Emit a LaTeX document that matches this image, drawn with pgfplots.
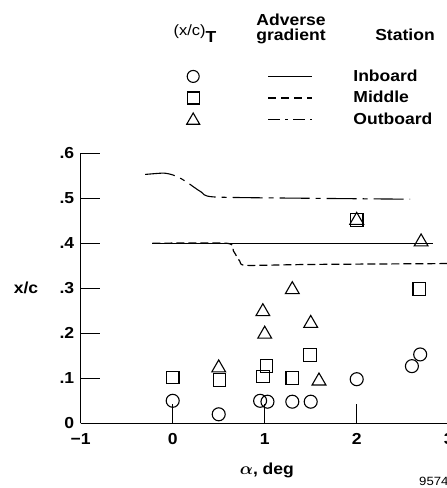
\documentclass[border=0pt]{standalone}
\usepackage{pgfplots}
\pgfplotsset{compat=1.18}
\usepackage{fontspec}
\setmainfont{Liberation Sans}[FakeStretch=1.1]
\newcommand\F{\fontsize{16}{19}\selectfont\bfseries\boldmath}

\pgfplotstableread{
x y
0    0.050
0.5  0.020
0.95 0.050
1.03 0.048
1.30 0.048
1.50 0.048
2.00 0.098
2.60 0.127
2.69 0.153
}\inboard
\pgfplotstableread{
x y
0    0.102
0.51 0.096
0.98 0.104
1.02 0.127
1.30 0.101
1.49 0.152
2.00 0.452
2.68 0.298
}\middle
\pgfplotstableread{
x y
0.50 0.123
0.98 0.248
1.00 0.198
1.30 0.297
1.50 0.222
1.59 0.094
2.00 0.451
2.70 0.403
}\outboard

\begin{document}
\begin{tikzpicture}[x=1bp,y=1bp]
\path[use as bounding box] (0,0) rectangle (447,488);
\begin{axis}[
  at={(80.7bp,64.7bp)}, anchor=south west,
  scale only axis, width=368bp, height=270bp,
  xmin=-1, xmax=3, ymin=0, ymax=0.6,
  axis lines*=left,
  axis line style={line width=1.5bp},
  clip=false,
  xtick={-1,0,1,2,3}, xticklabels={−1,0,1,2,3},
  ytick={0,0.1,0.2,0.3,0.4,0.5,0.6}, yticklabels={0,.1,.2,.3,.4,.5,.6},
  tick align=inside, major tick length=19bp,
  tick style={line width=1bp, black},
  ticklabel style={font=\F},
  yticklabel style={xshift=-3bp},
  xticklabel style={yshift=-7bp},
  every axis x label/.style={at={(axis description cs:0.506,0)}, anchor=center, yshift=-47bp, font=\F},
  every axis y label/.style={at={(axis description cs:0,0.5)}, anchor=center, xshift=-54.7bp, font=\F},
  xlabel={$\alpha$, deg},
  ylabel={x/c},
  legend style={at={(axis description cs:0.2875,1.317)}, anchor=north west, draw=none, fill=none,
    font=\F, inner sep=0pt, row sep=4.5bp},
  legend cell align=left,
  mark options={solid, fill=white, line width=1.1bp},
]
\addplot[only marks, mark=o, mark size=6.5bp, forget plot] table {\inboard};
\addplot[only marks, mark=square, mark size=6.3bp, forget plot] table {\middle};
\addplot[only marks, mark=triangle, mark size=8bp, forget plot] table {\outboard};

\addplot[line width=1.2bp, forget plot] coordinates {(-0.22,0.4) (2.83,0.4)};
\addplot[line width=1.2bp, dash pattern=on 8bp off 4bp, forget plot, smooth, tension=0.4] coordinates {
  (-0.22,0.4) (0.59,0.4) (0.66,0.383) (0.73,0.36) (0.80,0.351) (1.5,0.353) (3.0,0.355)};
\addplot[line width=1.1bp, dash pattern=on 30bp off 6bp on 5bp off 6bp, forget plot, smooth, tension=0.4] coordinates {
  (-0.30,0.553) (-0.10,0.556) (0.00,0.552) (0.08,0.545) (0.16,0.535) (0.31,0.514) (0.45,0.503) (1.5,0.500) (2.58,0.498)};

\addlegendimage{legend image code/.code={
  \draw[line width=1.1bp, mark=o, mark size=6bp] plot coordinates {(0bp,0bp)};
  \draw[line width=1.2bp] (75bp,0bp) -- (119bp,0bp);
  \path (158bp,0bp);}}
\addlegendentry{Inboard}
\addlegendimage{legend image code/.code={
  \draw[line width=1.1bp, mark=square, mark size=6bp] plot coordinates {(0bp,0bp)};
  \draw[line width=1.2bp, dash pattern=on 8bp off 5bp] (75bp,0bp) -- (119bp,0bp);
  \path (158bp,0bp);}}
\addlegendentry{Middle}
\addlegendimage{legend image code/.code={
  \draw[line width=1.1bp, mark=triangle, mark size=7.5bp] plot coordinates {(0bp,-1bp)};
  \draw[line width=1.2bp, dash pattern=on 12bp off 5bp on 3bp off 5bp] (75bp,0bp) -- (119bp,0bp);
  \path (158bp,0bp);}}
\addlegendentry{Outboard}
\end{axis}
\node[font=\fontsize{16}{16}\selectfont\bfseries, align=center, inner sep=0pt, anchor=base] at (291,447) {Adverse\\gradient};
\node[font=\F, anchor=base, inner sep=0pt] at (405,447) {Station};
\node[anchor=base, inner sep=0pt] at (195,452) {\fontsize{15}{15}\selectfont (x/c)\raisebox{-7bp}{\F T}};
\node[anchor=north west, inner sep=0pt, font=\fontsize{12}{12}\selectfont] at (419,11.5) {9574};
\end{tikzpicture}
\end{document}
